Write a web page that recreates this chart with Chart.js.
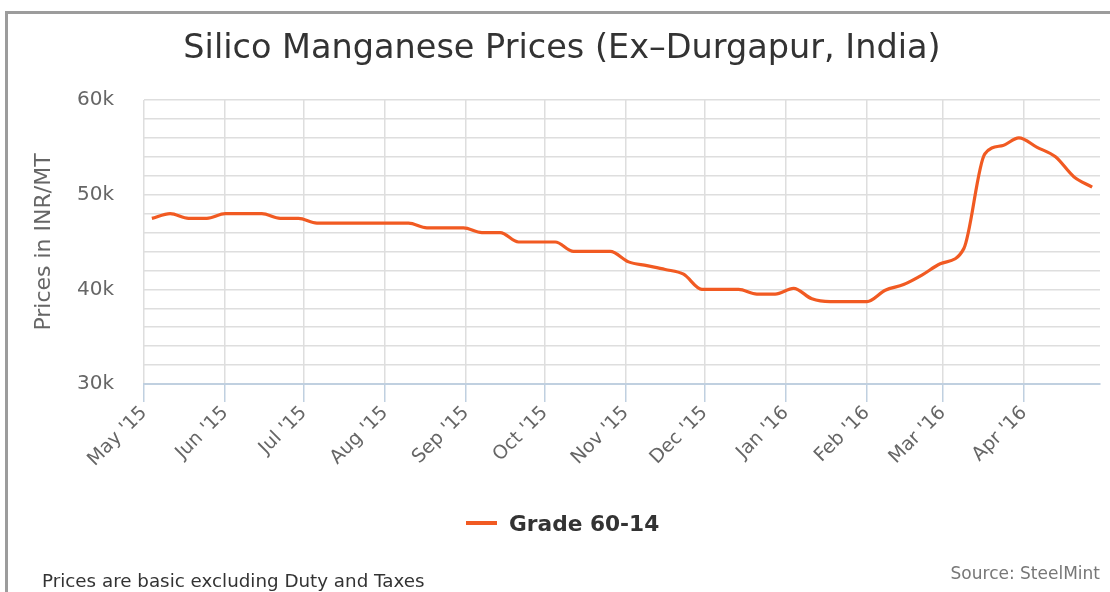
<!DOCTYPE html>
<html>
<head>
<meta charset="utf-8">
<script src="https://cdn.jsdelivr.net/npm/chart.js@4"></script>
<style>
  html, body { margin: 0; padding: 0; background: #fff; }
  body { width: 1110px; height: 592px; position: relative; overflow: hidden; font-family: "DejaVu Sans", sans-serif; }
  #frame { position: absolute; left: 5px; top: 11px; width: 1200px; height: 700px;
           border-left: 3px solid #9c9c9c; border-top: 3px solid #9c9c9c; }
  #chartBox { position: absolute; left: 0; top: 0; width: 1110px; height: 592px; }
  .title { position: absolute; left: 0; width: 1124px; top: 27px; text-align: center;
           font-size: 33.5px; color: #333; white-space: nowrap; }
  .legend { position: absolute; left: 466px; top: 511px; font-size: 21.7px; font-weight: bold; color: #333; white-space: nowrap; }
  .legend .swatch { display: inline-block; width: 31px; height: 4px; background: #f15a22; vertical-align: middle; margin-right: 12px; position: relative; top: -2px; }
  .note { position: absolute; left: 42px; top: 570px; font-size: 18.3px; color: #333; white-space: nowrap; }
  .source { position: absolute; right: 10px; top: 563px; font-size: 17px; color: #777; white-space: nowrap; }
</style>
</head>
<body>
<div id="frame"></div>
<div id="chartBox"><canvas id="priceChart" width="1110" height="592"></canvas></div>
<div class="title">Silico Manganese Prices (Ex–Durgapur, India)</div>
<div class="legend"><span class="swatch"></span>Grade 60-14</div>
<div class="note">Prices are basic excluding Duty and Taxes</div>
<div class="source">Source: SteelMint</div>

<script>
/* days counted from 1 May 2015 */
const monthDays = [0, 31, 61, 92, 123, 153, 184, 214, 245, 276, 305, 336];
const monthLabels = ["May '15", "Jun '15", "Jul '15", "Aug '15", "Sep '15", "Oct '15",
  "Nov '15", "Dec '15", "Jan '16", "Feb '16", "Mar '16", "Apr '16"];

const priceDays = [3, 10, 17, 24, 31, 38, 45, 52, 59, 66, 73, 80, 87, 94, 101, 108, 115, 122,
  129, 136, 143, 150, 157, 164, 171, 178, 185, 192, 199, 206, 213, 220, 227, 234, 241, 248,
  255, 262, 269, 276, 283, 290, 297, 304, 313, 321, 328, 334, 341, 348, 355, 362];
const gradePrices = [47500, 48000, 47500, 47500, 48000, 48000, 48000, 47500, 47500, 47000,
  47000, 47000, 47000, 47000, 47000, 46500, 46500, 46500, 46000, 46000, 45000, 45000, 45000,
  44000, 44000, 44000, 42900, 42500, 42100, 41600, 40000, 40000, 40000, 39500, 39500, 40100,
  39000, 38700, 38700, 38700, 39900, 40500, 41500, 42700, 44300, 54300, 55200, 56000, 55000,
  54000, 51900, 50800];

const yTitle = "Prices in INR/MT";
const seriesName = "Grade 60-14";

const grid = "#dedede";
const axisBlue = "#c0d0e0";

new Chart(document.getElementById("priceChart"), {
  type: "line",
  data: {
    datasets: [{
      label: seriesName,
      data: priceDays.map((d, i) => ({ x: d, y: gradePrices[i] })),
      borderColor: "#f15a22",
      borderWidth: 3.2,
      cubicInterpolationMode: "monotone",
      pointRadius: 0,
      fill: false,
    }],
  },
  options: {
    responsive: false,
    animation: false,
    layout: { padding: { top: 100, right: 10, bottom: 108, left: 0 } },
    plugins: { legend: { display: false }, title: { display: false }, tooltip: { enabled: false } },
    scales: {
      x: {
        type: "linear", min: 0, max: 365,
        afterBuildTicks: (s) => { s.ticks = monthDays.map((v) => ({ value: v })); },
        afterFit: (s) => { s.height = 100; },
        grid: { color: grid, lineWidth: 1.5, tickLength: 18, tickColor: axisBlue, tickWidth: 1.5 },
        border: { color: axisBlue, width: 2 },
        ticks: {
          autoSkip: false, minRotation: 45, maxRotation: 45, padding: 0,
          color: "#666", font: { family: "DejaVu Sans", size: 19 },
          callback: (v) => monthLabels[monthDays.indexOf(v)],
        },
      },
      y: {
        min: 30000, max: 60000,
        afterFit: (s) => { s.width = 144; },
        grid: { color: grid, lineWidth: 1.5, drawTicks: false },
        border: { display: false },
        ticks: {
          stepSize: 2000, autoSkip: false, padding: 30, color: "#666", font: { family: "DejaVu Sans", size: 20 },
          callback: (v) => (v % 10000 === 0 ? v / 1000 + "k" : ""),
        },
        title: { display: true, text: yTitle, color: "#666", font: { family: "DejaVu Sans", size: 22 }, padding: { top: 31, bottom: 0 } },
      },
    },
  },
});
</script>
</body>
</html>
